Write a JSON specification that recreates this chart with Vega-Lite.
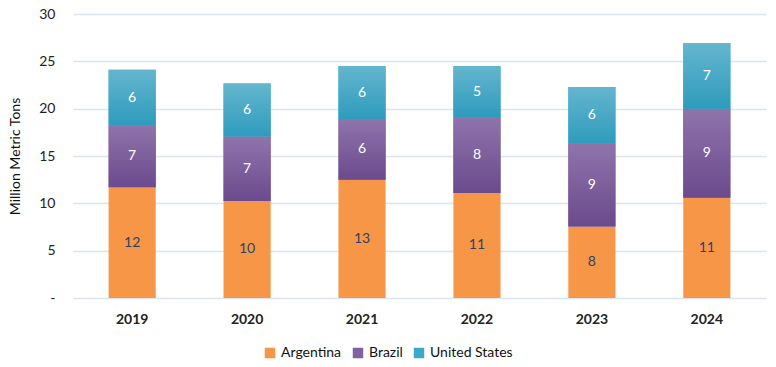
{
  "$schema": "https://vega.github.io/schema/vega-lite/v6.json",
  "width": 693,
  "height": 284,
  "autosize": {"type": "none"},
  "padding": {"left": 73, "top": 14, "right": 10, "bottom": 69},
  "config": {
    "view": {"stroke": null},
    "font": "Lato",
    "axis": {"labelFont": "Lato", "titleFont": "Lato"},
    "legend": {"labelFont": "Lato"}
  },
  "data": {
    "values": [
      {"year": "2019", "country": "Argentina", "order": 1, "value": 11.7},
      {"year": "2019", "country": "Brazil", "order": 2, "value": 6.55},
      {"year": "2019", "country": "United States", "order": 3, "value": 5.85},
      {"year": "2020", "country": "Argentina", "order": 1, "value": 10.25},
      {"year": "2020", "country": "Brazil", "order": 2, "value": 6.8},
      {"year": "2020", "country": "United States", "order": 3, "value": 5.6},
      {"year": "2021", "country": "Argentina", "order": 1, "value": 12.5},
      {"year": "2021", "country": "Brazil", "order": 2, "value": 6.4},
      {"year": "2021", "country": "United States", "order": 3, "value": 5.6},
      {"year": "2022", "country": "Argentina", "order": 1, "value": 11.1},
      {"year": "2022", "country": "Brazil", "order": 2, "value": 8.0},
      {"year": "2022", "country": "United States", "order": 3, "value": 5.4},
      {"year": "2023", "country": "Argentina", "order": 1, "value": 7.55},
      {"year": "2023", "country": "Brazil", "order": 2, "value": 8.75},
      {"year": "2023", "country": "United States", "order": 3, "value": 6.0},
      {"year": "2024", "country": "Argentina", "order": 1, "value": 10.6},
      {"year": "2024", "country": "Brazil", "order": 2, "value": 9.4},
      {"year": "2024", "country": "United States", "order": 3, "value": 6.9}
    ]
  },
  "transform": [
    {"stack": "value", "groupby": ["year"], "sort": [{"field": "order", "order": "ascending"}], "as": ["v0", "v1"]},
    {"calculate": "(datum.v0 + datum.v1) / 2", "as": "mid"},
    {"calculate": "format(round(datum.value), 'd')", "as": "lbl"}
  ],
  "encoding": {
    "x": {
      "field": "year", "type": "nominal",
      "scale": {"paddingInner": 0.59, "paddingOuter": 0.31},
      "axis": {
        "title": null, "labelAngle": 0, "domain": false, "ticks": false,
        "labelPadding": 14, "labelFontSize": 14, "labelColor": "#222222", "labelFontWeight": "bold"
      }
    }
  },
  "layer": [
    {
      "mark": {"type": "bar"},
      "encoding": {
        "y": {
          "field": "v0", "type": "quantitative",
          "scale": {"domain": [0, 30], "nice": false},
          "axis": {
            "values": [0, 5, 10, 15, 20, 25, 30],
            "labelExpr": "datum.value == 0 ? '-' : datum.label",
            "title": "Million Metric Tons",
            "titleFontSize": 14, "titleFontWeight": "normal", "titleColor": "#111111",
            "titlePadding": 16,
            "labelFontSize": 14, "labelColor": "#222222", "labelPadding": 18,
            "domain": false, "ticks": false,
            "gridColor": "#dbe5f1", "gridWidth": 1.5
          }
        },
        "y2": {"field": "v1"},
        "color": {
          "field": "country", "type": "nominal",
          "scale": {"domain": ["Argentina", "Brazil", "United States"], "range": ["#f79646", "#7f62a2", "#3ca9c8"]},
          "legend": {
            "title": null, "orient": "none", "direction": "horizontal",
            "legendX": 190, "legendY": 332,
            "symbolType": "square", "symbolSize": 110, "symbolStrokeWidth": 0,
            "labelFontSize": 14, "labelColor": "#111111", "columnPadding": 9
          }
        }
      }
    },
    {
      "transform": [{"filter": "datum.country == 'Brazil'"}],
      "mark": {
        "type": "bar",
        "fill": {"gradient": "linear", "x1": 0, "y1": 0, "x2": 0, "y2": 1,
          "stops": [{"offset": 0, "color": "#8f74ab"}, {"offset": 1, "color": "#6b4a8d"}]}
      },
      "encoding": {
        "y": {"field": "v0", "type": "quantitative"},
        "y2": {"field": "v1"}
      }
    },
    {
      "transform": [{"filter": "datum.country == 'United States'"}],
      "mark": {
        "type": "bar",
        "fill": {"gradient": "linear", "x1": 0, "y1": 0, "x2": 0, "y2": 1,
          "stops": [{"offset": 0, "color": "#64b6ce"}, {"offset": 1, "color": "#2e9bbd"}]}
      },
      "encoding": {
        "y": {"field": "v0", "type": "quantitative"},
        "y2": {"field": "v1"}
      }
    },
    {
      "mark": {"type": "text", "fontSize": 14, "baseline": "middle"},
      "encoding": {
        "y": {"field": "mid", "type": "quantitative"},
        "text": {"field": "lbl"},
        "color": {
          "condition": {"test": "datum.country == 'Argentina'", "value": "#2a4468"},
          "value": "#ffffff"
        }
      }
    }
  ]
}
